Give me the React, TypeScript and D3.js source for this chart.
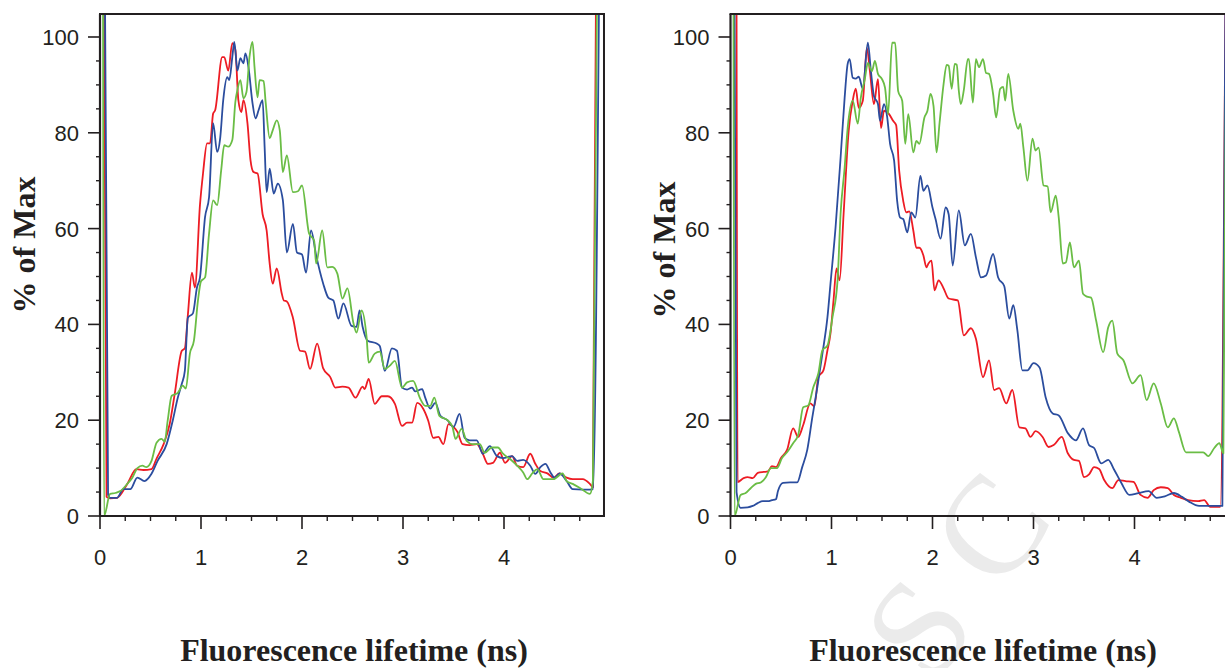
import React from "react";
import * as d3 from "d3";

type P = [number, number];

// ---------- data (lifetime in ns, % of max) ----------
const leftRed: P[] = [
  [0.04, 106], [0.065, 4], [0.1, 3.7], [0.17, 3.8], [0.27, 6.7], [0.36, 9.8], [0.43, 9.6], [0.51, 9.8],
  [0.56, 12], [0.63, 15], [0.69, 19.2], [0.74, 25.5], [0.81, 34.5], [0.84, 35], [0.87, 42], [0.91, 50.8],
  [0.94, 47.7], [0.99, 65], [1.02, 71.5], [1.06, 77.8], [1.09, 77.8], [1.12, 84], [1.14, 84.7], [1.21, 95.8],
  [1.23, 95.8], [1.27, 93], [1.31, 98.7], [1.34, 97.3], [1.37, 86.8], [1.4, 84.3], [1.42, 86.8], [1.46, 82],
  [1.49, 74.3], [1.52, 71.8], [1.56, 71.5], [1.61, 63], [1.65, 59.6], [1.68, 52.7], [1.71, 48.5], [1.75, 51.7],
  [1.8, 46.4], [1.82, 45], [1.85, 44.8], [1.91, 41.4], [1.98, 34.5], [2.03, 34.3], [2.08, 30.7], [2.15, 36],
  [2.21, 30.8], [2.28, 29], [2.33, 26.8], [2.4, 27], [2.46, 26.8], [2.53, 24.7], [2.6, 27], [2.62, 26.5],
  [2.66, 28.6], [2.72, 23.4], [2.79, 25], [2.85, 25], [2.92, 23.4], [2.99, 18.8], [3.04, 19.5], [3.09, 19.5],
  [3.14, 23.6], [3.2, 22.4], [3.25, 19.9], [3.3, 16.3], [3.35, 16.5], [3.4, 15], [3.45, 19.2], [3.5, 18.6],
  [3.54, 17.5], [3.59, 15], [3.66, 14.8], [3.73, 15], [3.79, 13], [3.84, 10.9], [3.89, 11.1], [3.96, 13.2],
  [4.01, 11.1], [4.08, 12.5], [4.13, 10.5], [4.19, 10.2], [4.26, 13], [4.31, 10.9], [4.36, 9.4], [4.43, 8.9],
  [4.49, 8], [4.55, 8.9], [4.62, 8], [4.68, 7.7], [4.78, 7.7], [4.85, 6.7], [4.88, 6], [4.91, 106],
];

const leftBlue: P[] = [
  [0.05, 106], [0.08, 4.5], [0.1, 3.8], [0.17, 3.8], [0.23, 5.6], [0.3, 5.6], [0.37, 8], [0.44, 7.3],
  [0.51, 8.8], [0.57, 11.5], [0.66, 15], [0.72, 19.9], [0.77, 24.7], [0.81, 27.6], [0.84, 30.3], [0.87, 41.4],
  [0.92, 42.3], [0.96, 47.7], [0.99, 49.8], [1.04, 62.4], [1.08, 66.6], [1.12, 82], [1.16, 76], [1.19, 78.9],
  [1.22, 86.8], [1.26, 91.6], [1.28, 91], [1.31, 95.8], [1.33, 99], [1.36, 93], [1.39, 95.6], [1.42, 94.5],
  [1.44, 96.6], [1.47, 93.7], [1.51, 86.2], [1.54, 83], [1.57, 84.7], [1.61, 86.8], [1.63, 77], [1.65, 67.6],
  [1.68, 72.5], [1.72, 67.3], [1.76, 69.4], [1.81, 66], [1.85, 55], [1.91, 61], [1.95, 55], [2.0, 54.6],
  [2.04, 50.8], [2.09, 59.6], [2.14, 54.4], [2.21, 48.5], [2.26, 45.6], [2.31, 45], [2.36, 41.2], [2.41, 44.4],
  [2.49, 39.7], [2.54, 39.5], [2.57, 42.9], [2.6, 39.5], [2.65, 36.6], [2.74, 36], [2.77, 35.5], [2.82, 30.3],
  [2.89, 35], [2.94, 34.5], [2.99, 26.8], [3.04, 26.4], [3.09, 26.8], [3.12, 26], [3.19, 26.5], [3.22, 24.7],
  [3.27, 22.4], [3.32, 23.6], [3.37, 20.9], [3.44, 20], [3.5, 18.6], [3.56, 21.3], [3.61, 16.3], [3.66, 15.8],
  [3.73, 15.8], [3.79, 13], [3.86, 14.6], [3.93, 12.5], [3.99, 12.1], [4.08, 12.5], [4.13, 11.5], [4.19, 11.7],
  [4.26, 10.5], [4.31, 8.8], [4.36, 10.2], [4.41, 10.9], [4.46, 9.1], [4.5, 8], [4.55, 8.9], [4.62, 7.3],
  [4.68, 5.6], [4.78, 5.5], [4.85, 5.5], [4.88, 5.6], [4.94, 106],
];

const leftGreen: P[] = [
  [0.03, 106], [0.04, 0], [0.1, 4.6], [0.15, 4.8], [0.2, 5.2], [0.27, 6.7], [0.32, 8], [0.37, 10],
  [0.42, 10.5], [0.46, 10.2], [0.51, 11.5], [0.56, 15.3], [0.61, 16.1], [0.64, 15.5], [0.67, 19.9], [0.71, 25.1],
  [0.77, 25.7], [0.82, 27.2], [0.85, 26.6], [0.89, 33.9], [0.93, 36.6], [0.97, 45], [1.0, 49], [1.04, 49.8],
  [1.08, 59], [1.12, 65.9], [1.16, 64.9], [1.2, 72.2], [1.23, 77.4], [1.27, 77.1], [1.31, 78.5], [1.34, 86.4],
  [1.36, 88.9], [1.39, 91], [1.42, 87.2], [1.45, 88.5], [1.48, 95.8], [1.51, 99], [1.53, 93.7], [1.56, 87.4],
  [1.58, 91], [1.62, 90.8], [1.64, 86.4], [1.68, 78.9], [1.71, 80.5], [1.75, 82.6], [1.78, 80.5], [1.81, 71.8],
  [1.85, 75.3], [1.91, 67.6], [1.96, 67.8], [2.0, 69], [2.07, 59], [2.12, 57.5], [2.14, 52.7], [2.2, 59.6],
  [2.25, 51.9], [2.3, 52], [2.35, 50.6], [2.4, 45.4], [2.45, 47.5], [2.51, 40.2], [2.54, 38.3], [2.59, 42.9],
  [2.64, 37.2], [2.66, 32], [2.72, 33.9], [2.77, 34.3], [2.82, 30.7], [2.87, 31.4], [2.92, 32.4], [2.99, 26.8],
  [3.04, 27.9], [3.1, 28.2], [3.17, 24.5], [3.22, 23], [3.27, 23], [3.31, 24.7], [3.36, 20.9], [3.44, 20],
  [3.49, 18.6], [3.52, 16.1], [3.58, 18.2], [3.63, 15.7], [3.69, 15], [3.76, 15], [3.81, 13.2], [3.88, 14.3],
  [3.94, 14.3], [3.99, 13], [4.06, 11.9], [4.13, 10.5], [4.19, 9.1], [4.23, 7.7], [4.28, 8.9], [4.33, 9.8],
  [4.39, 7.7], [4.49, 7.7], [4.58, 8.9], [4.62, 7.3], [4.68, 6.7], [4.77, 5.6], [4.85, 4.6], [4.88, 7.3],
  [4.92, 106],
];

const rightRed: P[] = [
  [0.06, 106], [0.07, 7.1], [0.13, 7.9], [0.17, 8.1], [0.22, 7.9], [0.27, 9], [0.33, 9.2], [0.37, 9.3],
  [0.41, 10.4], [0.45, 10.2], [0.5, 12.1], [0.56, 13.8], [0.62, 18.3], [0.67, 16.5], [0.72, 19], [0.79, 23.5],
  [0.83, 22.9], [0.87, 29], [0.92, 30.4], [0.96, 34.6], [0.99, 38.1], [1.02, 45], [1.05, 51.7], [1.08, 49.2],
  [1.12, 63.1], [1.17, 80.4], [1.21, 86.7], [1.24, 89.2], [1.27, 85.2], [1.31, 86.7], [1.35, 97.7], [1.38, 92.9],
  [1.42, 86], [1.46, 91.2], [1.49, 81], [1.52, 84.6], [1.57, 83.9], [1.61, 82.5], [1.64, 81.6], [1.67, 72.1],
  [1.71, 65.8], [1.74, 63.4], [1.77, 63.6], [1.81, 59.6], [1.84, 56], [1.87, 56], [1.91, 54.4], [1.94, 51.9],
  [1.96, 52.7], [1.99, 53.3], [2.02, 47.1], [2.06, 49.2], [2.11, 47.5], [2.16, 45.4], [2.25, 45], [2.31, 37.7],
  [2.38, 39.2], [2.43, 37], [2.5, 29], [2.56, 32.5], [2.61, 26.3], [2.66, 26.7], [2.73, 23.5], [2.79, 26.3],
  [2.86, 18.5], [2.92, 18.3], [2.97, 16.5], [3.02, 17.7], [3.09, 16.5], [3.15, 14.4], [3.2, 14.8], [3.28, 16.5],
  [3.34, 13.1], [3.4, 11.7], [3.45, 11.5], [3.5, 8.1], [3.55, 8.7], [3.6, 10.2], [3.65, 9.8], [3.7, 7.5],
  [3.78, 5.8], [3.84, 7.5], [3.91, 7.3], [3.99, 7.1], [4.06, 4.4], [4.13, 3.8], [4.19, 5.4], [4.26, 6],
  [4.33, 5.8], [4.39, 4.4], [4.46, 3.8], [4.53, 3.3], [4.63, 3.1], [4.69, 3.3], [4.75, 1.9], [4.85, 1.9],
  [4.9, 106],
];

const rightBlue: P[] = [
  [0.04, 106], [0.06, 5], [0.1, 1.7], [0.17, 1.8], [0.22, 2.1], [0.27, 2.7], [0.32, 3.1], [0.37, 3.1],
  [0.41, 3.3], [0.45, 3.5], [0.47, 5.2], [0.52, 6.9], [0.59, 7], [0.66, 7], [0.71, 10.2], [0.76, 13.8],
  [0.81, 20.6], [0.86, 26.9], [0.91, 33.9], [0.96, 41.5], [0.99, 48.5], [1.04, 60.2], [1.09, 74.8], [1.13, 87.3],
  [1.16, 94.4], [1.18, 95.4], [1.21, 91.5], [1.24, 91.3], [1.27, 91.7], [1.31, 89.2], [1.36, 98.8], [1.39, 92.9],
  [1.42, 87.7], [1.46, 86], [1.48, 82.5], [1.52, 86], [1.55, 83.5], [1.58, 77.7], [1.62, 74.2], [1.65, 65.8],
  [1.68, 62.3], [1.71, 62], [1.75, 59.2], [1.79, 63.4], [1.83, 62.3], [1.88, 71], [1.91, 67.9], [1.95, 69],
  [2.0, 64.4], [2.03, 62], [2.08, 57.9], [2.13, 64.4], [2.16, 63], [2.2, 52.3], [2.26, 63.8], [2.32, 56.5],
  [2.38, 58.9], [2.43, 54], [2.48, 49.8], [2.53, 50.2], [2.6, 54.7], [2.65, 49.8], [2.71, 48], [2.76, 41.2],
  [2.8, 44], [2.84, 38.8], [2.89, 30.4], [2.94, 30.4], [3.0, 31.9], [3.06, 31], [3.12, 24.8], [3.19, 21.4],
  [3.25, 21], [3.34, 17.3], [3.42, 15.8], [3.49, 18.3], [3.55, 14.8], [3.6, 14.2], [3.67, 11], [3.74, 11.7],
  [3.8, 9.6], [3.87, 6.9], [3.95, 4.4], [4.04, 4.8], [4.14, 5.2], [4.22, 3.8], [4.3, 4.1], [4.39, 4.8],
  [4.47, 4], [4.54, 3], [4.64, 2.1], [4.74, 2.1], [4.87, 2.1], [4.9, 106],
];

const rightGreen: P[] = [
  [0.03, 106], [0.04, 0], [0.1, 4.4], [0.15, 4.8], [0.2, 5.8], [0.25, 6.7], [0.3, 7], [0.35, 8.1],
  [0.4, 10], [0.46, 10], [0.51, 12.1], [0.56, 13.3], [0.62, 15.2], [0.67, 16.9], [0.72, 22.7], [0.77, 23.1],
  [0.82, 26.9], [0.87, 29.8], [0.91, 34.6], [0.96, 35.6], [1.01, 41.5], [1.06, 49.2], [1.09, 63.1], [1.13, 72.7],
  [1.16, 81], [1.21, 86.7], [1.26, 81.9], [1.29, 87.3], [1.33, 91.2], [1.36, 94.6], [1.4, 92.9], [1.43, 95],
  [1.46, 92.3], [1.5, 91.2], [1.53, 89.4], [1.56, 83.9], [1.6, 98.8], [1.63, 98.8], [1.66, 88.7], [1.7, 86.7],
  [1.73, 77.7], [1.76, 83.9], [1.81, 75.9], [1.84, 78.3], [1.87, 77.7], [1.92, 83.2], [1.95, 84.6], [1.98, 88.1],
  [2.01, 85.6], [2.04, 75.9], [2.07, 82.1], [2.11, 90.2], [2.14, 94.2], [2.16, 94], [2.19, 89.2], [2.22, 94.4],
  [2.24, 94.2], [2.26, 88.9], [2.28, 86], [2.31, 88.9], [2.35, 95.4], [2.36, 95.4], [2.4, 86.3], [2.43, 95.4],
  [2.46, 93.7], [2.5, 95.4], [2.53, 92.5], [2.56, 92.3], [2.6, 88.1], [2.63, 83.2], [2.67, 89.2], [2.7, 89.6],
  [2.72, 86.7], [2.75, 92.3], [2.8, 84.6], [2.85, 80.8], [2.87, 81.9], [2.9, 76.9], [2.94, 70], [2.99, 78.8],
  [3.02, 76.3], [3.05, 76.9], [3.1, 69], [3.14, 68.8], [3.17, 63.4], [3.22, 66.9], [3.25, 62.3], [3.29, 52.7],
  [3.32, 52.9], [3.36, 57.1], [3.4, 51.9], [3.45, 53.3], [3.49, 46.4], [3.53, 45.8], [3.57, 45.6], [3.62, 40.8],
  [3.69, 34.2], [3.74, 39.4], [3.78, 40.8], [3.83, 33.9], [3.89, 32.5], [3.98, 27.7], [4.06, 29.4], [4.12, 24.2],
  [4.19, 27.7], [4.26, 23.5], [4.33, 18.5], [4.39, 20.4], [4.44, 17.5], [4.51, 13.3], [4.59, 13.3], [4.68, 13.3],
  [4.73, 12.5], [4.79, 14.2], [4.84, 15.2], [4.88, 13.1], [4.91, 106],
];

const xMajorTicks = [0, 1, 2, 3, 4];
const yMajorTicks = [0, 20, 40, 60, 80, 100];
const xTitle = "Fluorescence lifetime (ns)";
const yTitle = "% of Max";
const seriesColors = ["#ed1c24", "#2b4d9e", "#6abd45"];

// ---------- layout ----------
const W = 1225;
const H = 668;
const AX = "#231f20";
const SANS = "'Liberation Sans', Arial, Helvetica, sans-serif";
const SERIF = "'Liberation Serif', 'Times New Roman', Times, serif";

interface PanelProps {
  id: string;
  x0: number;
  xEnd: number;
  rightBorder: boolean;
  yTitleX: number;
  yTitleY: number;
  xTitleX: number;
  series: P[][];
}

function Panel({ id, x0, xEnd, rightBorder, yTitleX, yTitleY, xTitleX, series }: PanelProps) {
  const x = d3.scaleLinear().domain([0, 4.99]).range([x0, x0 + 4.99 * 101]);
  const y = d3.scaleLinear().domain([0, 104.8]).range([516, 14]);
  const top = y(104.8);
  const bottom = y(0);
  const right = x(4.99);
  const line = d3
    .line<P>()
    .x((d) => x(d[0]))
    .y((d) => y(d[1]))
    .curve(d3.curveMonotoneX);
  const xMinor = d3.range(0, 4.8, 0.25).filter((v) => Math.abs(v - Math.round(v)) > 1e-6);
  const yMinor = d3.range(0, 101, 5).filter((v) => v % 20 !== 0);
  return (
    <g>
      <defs>
        <clipPath id={id}>
          <rect x={x0} y={top} width={right - x0} height={bottom - top} />
        </clipPath>
      </defs>
      <g clipPath={`url(#${id})`}>
        {series.map((s, i) => (
          <path key={i} d={line(s) || ""} fill="none" stroke={seriesColors[i]} strokeWidth={1.8} strokeLinejoin="round" />
        ))}
      </g>
      {/* frame */}
      <line x1={x0} x2={x0} y1={top} y2={bottom + 1} stroke={AX} strokeWidth={2.2} />
      <line x1={x0 - 1} x2={xEnd} y1={bottom} y2={bottom} stroke={AX} strokeWidth={2.2} />
      <line x1={x0 - 1} x2={xEnd} y1={top} y2={top} stroke={AX} strokeWidth={2} />
      {rightBorder && <line x1={right} x2={right} y1={top - 1} y2={bottom + 1} stroke={AX} strokeWidth={2} />}
      {/* y ticks */}
      {yMajorTicks.map((v) => (
        <g key={"ym" + v}>
          <line x1={x0 - 12} x2={x0} y1={y(v)} y2={y(v)} stroke={AX} strokeWidth={1.6} />
          <text x={x0 - 21} y={y(v) + 8} textAnchor="end" fontFamily={SANS} fontSize={22} fill={AX}>
            {v}
          </text>
        </g>
      ))}
      {yMinor.map((v) => (
        <line key={"yn" + v} x1={x0 - 4} x2={x0} y1={y(v)} y2={y(v)} stroke={AX} strokeWidth={1.4} />
      ))}
      {/* x ticks */}
      {xMajorTicks.map((v) => (
        <g key={"xm" + v}>
          <line x1={x(v)} x2={x(v)} y1={bottom} y2={bottom + 13} stroke={AX} strokeWidth={1.6} />
          <text x={x(v)} y={565} textAnchor="middle" fontFamily={SANS} fontSize={22} fill={AX}>
            {v}
          </text>
        </g>
      ))}
      {xMinor.map((v) => (
        <line key={"xn" + v} x1={x(v)} x2={x(v)} y1={bottom} y2={bottom + 5} stroke={AX} strokeWidth={1.4} />
      ))}
      {/* titles */}
      <text
        transform={`translate(${yTitleX},${yTitleY}) rotate(-90)`}
        textAnchor="middle"
        fontFamily={SERIF}
        fontWeight="bold"
        fontSize={32}
        fill={AX}
      >
        {yTitle}
      </text>
      <text x={xTitleX} y={661} textAnchor="middle" fontFamily={SERIF} fontWeight="bold" fontSize={32} fill={AX}>
        {xTitle}
      </text>
    </g>
  );
}

export default function App() {
  return (
    <svg
      width={W}
      height={H}
      viewBox={`0 0 ${W} ${H}`}
      style={{ position: "absolute", left: 0, top: 0, background: "#fff" }}
    >
      <rect width={W} height={H} fill="#fff" />
      {/* faint watermark */}
      <g fontFamily={SERIF} fontSize={140} fill="#ebebeb">
        <text transform="translate(918,628) rotate(-52)" textAnchor="middle" dominantBaseline="central">S</text>
        <text transform="translate(990,528) rotate(-52)" textAnchor="middle" dominantBaseline="central">C</text>
      </g>
      <Panel
        id="clipL"
        x0={100}
        xEnd={605}
        rightBorder={true}
        yTitleX={35}
        yTitleY={245}
        xTitleX={354}
        series={[leftRed, leftBlue, leftGreen]}
      />
      <Panel
        id="clipR"
        x0={730.5}
        xEnd={1225}
        rightBorder={false}
        yTitleX={675}
        yTitleY={250}
        xTitleX={983}
        series={[rightRed, rightBlue, rightGreen]}
      />
    </svg>
  );
}
